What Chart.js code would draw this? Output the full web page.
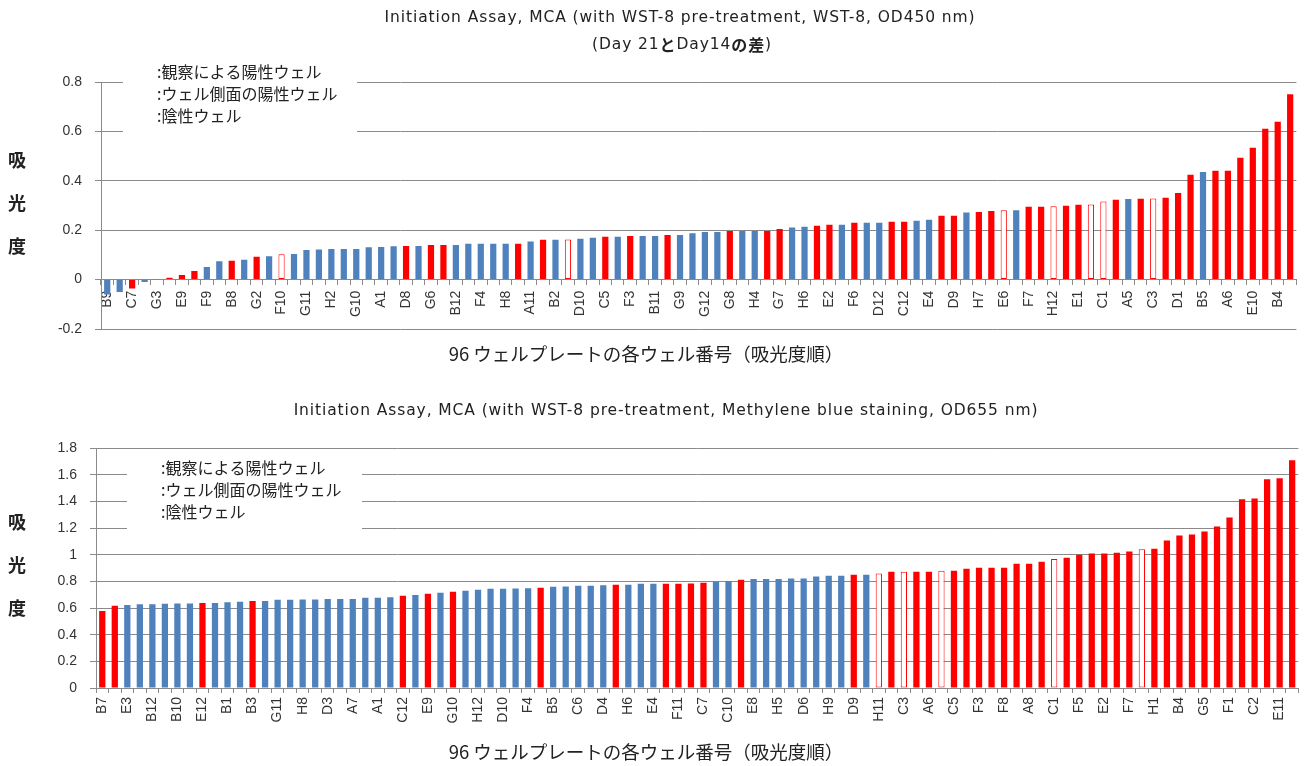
<!DOCTYPE html>
<html lang="ja">
<head>
<meta charset="utf-8">
<title>Initiation Assay, MCA</title>
<script src="https://cdn.jsdelivr.net/npm/chart.js@4.4.1/dist/chart.umd.min.js"></script>
<style>
  html, body { margin: 0; padding: 0; background: #fff; }
  .panel { position: absolute; left: 0; width: 1313px; }
  #top-panel { top: 0; height: 380px; }
  #bottom-panel { top: 385px; height: 381px; }
</style>
</head>
<body>
<div class="panel" id="top-panel"><canvas id="wst8Chart"></canvas></div>
<div class="panel" id="bottom-panel"><canvas id="mbChart"></canvas></div>
<script>
// Top chart: WST-8, OD450 (Day 21 - Day 14), wells sorted by absorbance
// only every second well is printed under the axis
const wst8Wells = ['B9','C7','G3','E9','F9','B8','G2','F10','G11','H2','G10','A1','D8','G6','B12','F4',
  'H8','A11','B2','D10','C5','F3','B11','G9','G12','G8','H4','G7','H6','E2','F6','D12',
  'C12','E4','D9','H7','E6','F7','H12','E1','C1','A5','C3','D1','B5','A6','E10','B4'];
const wst8Values = [
  -0.06, -0.05, -0.036, -0.01, 0.001, 0.007, 0.019, 0.035, 0.051, 0.074, 0.076, 0.08,
  0.093, 0.095, 0.103, 0.104, 0.12, 0.122, 0.124, 0.124, 0.124, 0.131, 0.132, 0.135,
  0.136, 0.136, 0.14, 0.14, 0.14, 0.145, 0.145, 0.145, 0.145, 0.145, 0.154, 0.161,
  0.161, 0.162, 0.165, 0.169, 0.173, 0.173, 0.177, 0.177, 0.177, 0.181, 0.181, 0.188,
  0.193, 0.193, 0.197, 0.197, 0.197, 0.197, 0.205, 0.211, 0.214, 0.218, 0.222, 0.222,
  0.23, 0.23, 0.23, 0.234, 0.234, 0.238, 0.242, 0.258, 0.258, 0.272, 0.274, 0.278,
  0.281, 0.281, 0.295, 0.295, 0.297, 0.299, 0.303, 0.304, 0.316, 0.323, 0.326, 0.327,
  0.328, 0.331, 0.351, 0.424, 0.436, 0.441, 0.441, 0.493, 0.534, 0.611, 0.639, 0.75
];
// P = positive by observation, S = positive on the well side, N = negative
const wst8Result = ('NNPNNPPPNN' + 'PNPNSNNNNN' + 'NNNNPNPPNN' + 'NNNPNPNSNN' + 'PNPNNPNNNN' +
  'PNNPPNNPPN' + 'PNNPPNNPPN' + 'PPSNPPSPPS' + 'SPNPSPPPNP' + 'PPPPPP').split('');

// Bottom chart: methylene blue staining, OD655
const mbWells = ['B7','E3','B12','B10','E12','B1','B3','G11','H8','D3','A7','A1','C12','E9','G10','H12',
  'D10','F4','B5','C6','D4','H6','E4','F11','C7','C10','E8','H5','D6','H9','D9','H11',
  'C3','A6','C5','F3','F8','A8','C1','F5','E2','F7','H1','B4','G5','F1','C2','E11'];
const mbValues = [
  0.578, 0.616, 0.623, 0.628, 0.628, 0.631, 0.633, 0.633, 0.638, 0.638, 0.643, 0.646,
  0.653, 0.653, 0.661, 0.661, 0.663, 0.663, 0.668, 0.668, 0.668, 0.676, 0.676, 0.681,
  0.691, 0.698, 0.706, 0.714, 0.721, 0.729, 0.736, 0.744, 0.744, 0.746, 0.749, 0.751,
  0.759, 0.761, 0.766, 0.766, 0.771, 0.774, 0.774, 0.781, 0.781, 0.781, 0.781, 0.784,
  0.789, 0.796, 0.802, 0.812, 0.817, 0.817, 0.817, 0.822, 0.822, 0.837, 0.842, 0.842,
  0.849, 0.849, 0.859, 0.872, 0.872, 0.872, 0.872, 0.879, 0.879, 0.894, 0.902, 0.902,
  0.902, 0.932, 0.932, 0.947, 0.967, 0.977, 1.0, 1.008, 1.008, 1.015, 1.023, 1.04,
  1.045, 1.106, 1.143, 1.151, 1.173, 1.211, 1.279, 1.415, 1.422, 1.565, 1.573, 1.709
];
const mbResult = ('PPNNNNNNPN' + 'NNPNNNNNNN' + 'NNNNPNPNPN' + 'NNNNNPNNNN' + 'NPNNNPPPPN' +
  'NPNNNNNNNN' + 'PNSPSPPSPP' + 'PPPPPPSPPP' + 'PPPSPPPPPP' + 'PPPPPP').split('');

const legendTexts = [':観察による陽性ウェル', ':ウェル側面の陽性ウェル', ':陰性ウェル'];
const yTitle = '吸光度';
const xTitle = '96 ウェルプレートの各ウェル番号（吸光度順）';

const RED = '#FF0000';
const BLUE = '#4F81BD';
const GRID = '#8a8a8a';
const JP = '"Noto Sans CJK JP", sans-serif';

Chart.defaults.font.family = '"Liberation Sans", Arial, sans-serif';
Chart.defaults.font.size = 14;
Chart.defaults.color = '#333';
Chart.defaults.animation = false;

// labels for all 96 bars, blank where the original skips one
function everyOther(shown) {
  const out = [];
  shown.forEach(w => out.push(w, ''));
  return out;
}

function barColours(codes) {
  return {
    backgroundColor: codes.map(c => c === 'N' ? BLUE : (c === 'S' ? '#FFFFFF' : RED)),
    borderColor: codes.map(c => c === 'N' ? BLUE : RED),
    borderWidth: codes.map(c => c === 'S' ? 1 : 0)
  };
}

// "1" rather than "1.0", like the original axis
const tidyTick = v => Math.round(v * 10) / 10;

// titles, stacked y title, x title and the text-only legend box
const panelDecor = {
  id: 'panelDecor',
  afterDraw(chart, args, opts) {
    const ctx = chart.ctx;
    ctx.save();
    ctx.fillStyle = '#222';
    ctx.textBaseline = 'middle';

    opts.titleLines.forEach(line => {
      ctx.letterSpacing = '0.9px';
      let total = 0;
      line.parts.forEach(p => { ctx.font = p.font; total += ctx.measureText(p.text).width; });
      let x = line.x - total / 2;
      ctx.textAlign = 'left';
      line.parts.forEach(p => {
        ctx.font = p.font;
        ctx.fillText(p.text, x, line.y);
        x += ctx.measureText(p.text).width;
      });
      ctx.letterSpacing = '0px';
    });

    ctx.font = 'bold 18px ' + JP;
    ctx.textAlign = 'center';
    yTitle.split('').forEach((ch, i) => ctx.fillText(ch, opts.yTitle.x, opts.yTitle.y + i * 43));

    ctx.font = '18.5px ' + JP;
    ctx.fillText(xTitle, opts.xTitle.x, opts.xTitle.y);

    const box = opts.legend;
    ctx.fillStyle = '#fff';
    ctx.fillRect(box.x, box.y, box.w, box.h);
    ctx.fillStyle = '#222';
    ctx.font = '16px ' + JP;
    ctx.textAlign = 'left';
    legendTexts.forEach((t, i) => ctx.fillText(t, box.textX, box.textY + i * 22));
    ctx.restore();
  }
};

const titleFont = '15.5px "DejaVu Sans", sans-serif';
const titleBold = 'bold 16px ' + JP;

new Chart(document.getElementById('wst8Chart'), {
  type: 'bar',
  data: {
    labels: everyOther(wst8Wells),
    datasets: [Object.assign({ data: wst8Values, barPercentage: 0.5, categoryPercentage: 1, borderSkipped: false },
      barColours(wst8Result))]
  },
  options: {
    responsive: true,
    maintainAspectRatio: false,
    layout: { padding: { top: 82, right: 8, bottom: 51, left: 0 } },
    plugins: {
      legend: { display: false },
      tooltip: { enabled: false },
      panelDecor: {
        titleLines: [
          { x: 680, y: 18, parts: [{ text: 'Initiation Assay, MCA (with WST-8 pre-treatment, WST-8, OD450 nm)', font: titleFont }] },
          { x: 682, y: 45, parts: [
            { text: '(Day 21', font: titleFont }, { text: 'と', font: titleBold },
            { text: 'Day14', font: titleFont }, { text: 'の差', font: titleBold }, { text: ')', font: titleFont }] }
        ],
        yTitle: { x: 17, y: 160 },
        xTitle: { x: 646, y: 354 },
        legend: { x: 123, y: 62, w: 234, h: 75, textX: 157, textY: 72 }
      }
    },
    scales: {
      x: {
        position: { y: 0 },
        grid: { drawOnChartArea: false, tickLength: 5, color: GRID },
        border: { color: GRID },
        ticks: { autoSkip: false, minRotation: 90, maxRotation: 90, padding: 6 }
      },
      y: {
        min: -0.2, max: 0.8,
        ticks: { stepSize: 0.2, padding: 13, callback: tidyTick },
        grid: { color: GRID, tickLength: 6 },
        border: { color: GRID },
        afterFit: s => { s.width = 101; }
      }
    }
  },
  plugins: [panelDecor]
});

new Chart(document.getElementById('mbChart'), {
  type: 'bar',
  data: {
    labels: everyOther(mbWells),
    datasets: [Object.assign({ data: mbValues, barPercentage: 0.5, categoryPercentage: 1, borderSkipped: false },
      barColours(mbResult))]
  },
  options: {
    responsive: true,
    maintainAspectRatio: false,
    layout: { padding: { top: 63, right: 8, bottom: 38, left: 0 } },
    plugins: {
      legend: { display: false },
      tooltip: { enabled: false },
      panelDecor: {
        titleLines: [
          { x: 666, y: 26, parts: [{ text: 'Initiation Assay, MCA (with WST-8 pre-treatment, Methylene blue staining, OD655 nm)', font: titleFont }] }
        ],
        yTitle: { x: 17, y: 137 },
        xTitle: { x: 646, y: 367 },
        legend: { x: 127, y: 70, w: 235, h: 80, textX: 161, textY: 83 }
      }
    },
    scales: {
      x: {
        grid: { drawOnChartArea: false, tickLength: 5, color: GRID },
        border: { color: GRID },
        ticks: { autoSkip: false, minRotation: 90, maxRotation: 90, padding: 4 },
        afterFit: s => { s.height = 40; }
      },
      y: {
        min: 0, max: 1.8,
        ticks: { stepSize: 0.2, padding: 13, callback: tidyTick },
        grid: { color: GRID, tickLength: 6 },
        border: { color: GRID },
        afterFit: s => { s.width = 96; }
      }
    }
  },
  plugins: [panelDecor]
});
</script>
</body>
</html>
